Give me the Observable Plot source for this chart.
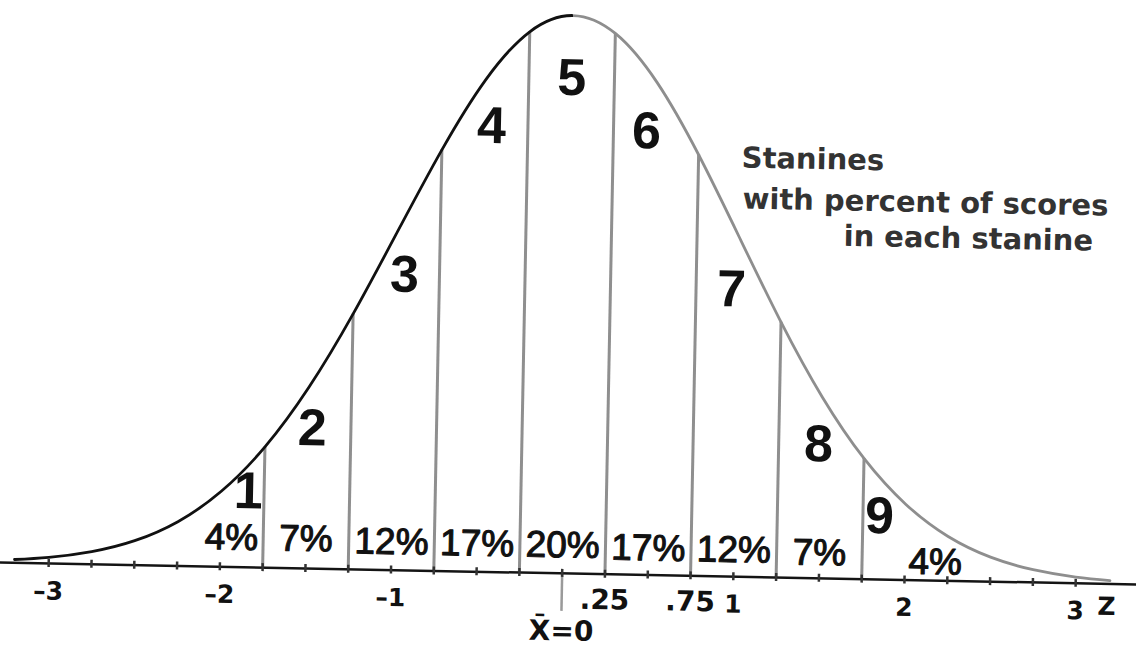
<!DOCTYPE html>
<html><head><meta charset="utf-8">
<script src="https://cdn.jsdelivr.net/npm/d3@7"></script>
<script src="https://cdn.jsdelivr.net/npm/@observablehq/plot@0.6"></script>
<style>
html,body{margin:0;padding:0;background:#fff;overflow:hidden;}
#chart svg{display:block;transform:rotate(1.1deg);transform-origin:50% 50%;background:transparent;}
</style></head><body><div id="chart"></div>
<script>
// Normal curve (z-score vs. curve height)
const curveZ = [-3.2,-3,-2.75,-2.5,-2.25,-2,-1.75,-1.5,-1.25,-1,-0.75,-0.5,-0.25,0,0.25,0.5,0.75,1,1.25,1.5,1.75,2,2.25,2.5,2.75,3,3.2];
const curveHeight = [0.0024,0.0044,0.0091,0.0175,0.0317,0.0540,0.0863,0.1295,0.1826,0.2420,0.3011,0.3521,0.3867,0.3989,0.3867,0.3521,0.3011,0.2420,0.1826,0.1295,0.0863,0.0540,0.0317,0.0175,0.0091,0.0044,0.0024];
// Stanine boundaries (z)
const boundaries = [-1.75,-1.25,-0.75,-0.25,0.25,0.75,1.25,1.75];
// Stanines and percent of scores
const stanines = ["1","2","3","4","5","6","7","8","9"];
const percents = ["4%","7%","12%","17%","20%","17%","12%","7%","4%"];
// Label anchors (z, curve-height units)
const stanineLabelZ = [-1.842,-1.475,-0.954,-0.463,0,0.443,0.957,1.482,1.847];
const stanineLabelH = [0.0542,0.100,0.211,0.3185,0.3539,0.317,0.2052,0.0956,0.045];
const percentLabelZ = [-1.936,-1.5,-1,-0.5,0,0.5,1,1.5,2.177];
const percentLabelH = [0.021,0.021,0.020,0.020,0.020,0.019,0.019,0.018,0.013];
// Axis ticks
const minorTicks = [-3,-2.75,-2.5,-2.25,-2,-1.75,-1.5,-1.25,-1,-0.75,-0.5,-0.25,0,0.25,0.5,0.75,1,1.25,1.5,1.75,2,2.25,2.5,2.75,3];
const tickLabelZ = [-3,-2,-1,1,2,3];
const tickLabelText = ["\u20133","\u20132","\u20131","1","2","3"];
const fracLabelZ = [0.25,0.75];
const fracLabelText = [".25",".75"];
const axisName = "Z";
const axisNameZ = 3.183;
const meanLabel = "X\u0304=0";
// Note
const noteLines = ["Stanines","with percent of scores","in each stanine"];
const noteZ = [1.002,1.012,1.606];
const noteH = [0.2926,0.2633,0.2380];

const W = 1141, H = 646;
const xDomain = [-3.309, 3.356];
const curve = curveZ.map((z,i)=>({z, h: curveHeight[i]}));
const hAt = z => curveHeight[curveZ.indexOf(z)];
const bounds = boundaries.map(z=>({z, h: hAt(z)}));
const stanineLabels = stanines.map((s,i)=>({s, z: stanineLabelZ[i], h: stanineLabelH[i]}));
const percentLabels = percents.map((p,i)=>({p, z: percentLabelZ[i], h: percentLabelH[i]}));
const tickLabels = tickLabelZ.map((z,i)=>({z, t: tickLabelText[i]}));
const fracLabels = fracLabelZ.map((z,i)=>({z, t: fracLabelText[i]}));
const notes = noteLines.map((t,i)=>({t, z: noteZ[i], h: noteH[i]}));

const split = (0 - xDomain[0]) / (xDomain[1] - xDomain[0]);
const gradientMark = () => {
  const defs = d3.create("svg:defs");
  const g = defs.append("linearGradient").attr("id","curveStroke")
    .attr("gradientUnits","userSpaceOnUse").attr("x1",0).attr("x2",W).attr("y1",0).attr("y2",0);
  g.append("stop").attr("offset", split).attr("stop-color","#111");
  g.append("stop").attr("offset", split).attr("stop-color","#8e8e8e");
  return defs.node();
};

const sans = "'Liberation Sans', Arial, sans-serif";
const deja = "'DejaVu Sans', sans-serif";
const chart = Plot.plot({
  width: W, height: H,
  marginLeft: 0, marginRight: 0, marginTop: 13.5, marginBottom: 73,
  x: {domain: xDomain, axis: null},
  y: {domain: [0, 0.4], axis: null},
  style: {background: "transparent", fontFamily: sans},
  marks: [
    gradientMark,
    Plot.ruleX(bounds, {x: "z", y1: 0, y2: "h", stroke: "#8f8f8f", strokeWidth: 3}),
    Plot.ruleX([0], {y1: 0, y2: 0, insetBottom: -38, stroke: "#9a9a9a", strokeWidth: 2.5}),
    Plot.ruleY([0], {stroke: "#141414", strokeWidth: 2.5}),
    Plot.ruleX(minorTicks, {y1: 0, y2: 0, insetTop: -4, insetBottom: -4, stroke: "#333", strokeWidth: 2.5}),
    Plot.line(curve, {x: "z", y: "h", curve: "natural", stroke: "url(#curveStroke)", strokeWidth: 2.8}),
    Plot.text(stanineLabels, {x: "z", y: "h", text: "s", fontSize: 52, fontWeight: "bold", fill: "#111", fontFamily: sans}),
    Plot.text(percentLabels, {x: "z", y: "h", text: "p", fontSize: 37, fill: "#111", stroke: "#111", strokeWidth: 1.1, fontFamily: sans}),
    Plot.text(tickLabels, {x: "z", y: 0, dy: 28, text: "t", fontSize: 25, fontWeight: "bold", fill: "#111", fontFamily: deja}),
    Plot.text(fracLabels, {x: "z", y: 0, dy: 26, text: "t", fontSize: 28, fontWeight: "bold", fill: "#111", fontFamily: deja}),
    Plot.text([axisName], {x: axisNameZ, y: 0, dy: 23, text: d => d, fontSize: 25, fontWeight: "bold", fill: "#111", fontFamily: deja}),
    Plot.text([meanLabel], {x: 0, y: 0, dy: 58, text: d => d, fontSize: 28, fontWeight: "bold", fill: "#111", fontFamily: deja}),
    Plot.text(notes, {x: "z", y: "h", text: "t", textAnchor: "start", lineAnchor: "bottom", fontSize: 29, fontWeight: "bold", fill: "#333", fontFamily: deja})
  ]
});
document.getElementById("chart").appendChild(chart);
</script></body></html>
